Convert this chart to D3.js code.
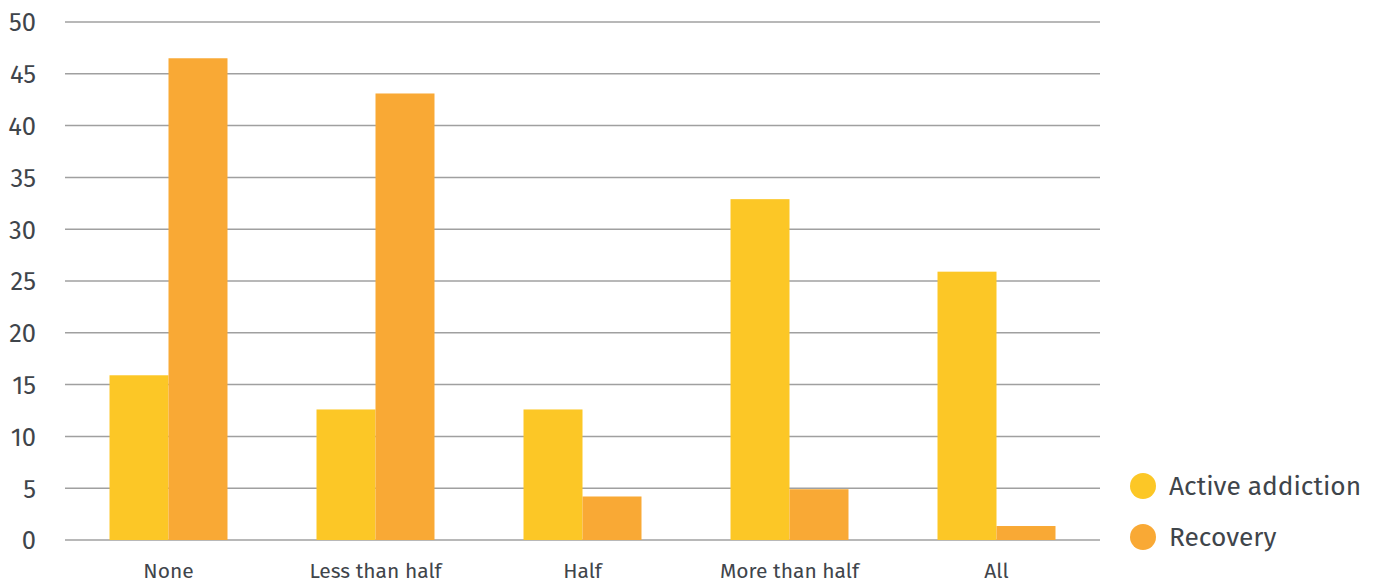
<!DOCTYPE html>
<html><head><meta charset="utf-8">
<script src="https://cdn.jsdelivr.net/npm/d3@7"></script>
<style>body{margin:0;background:#fff;} svg{display:block;}</style>
</head><body>
<svg id="c" width="1379" height="583"></svg>
<script>
const categories = ["None", "Less than half", "Half", "More than half", "All"];
const seriesNames = ["Active addiction", "Recovery"];
const activeAddiction = [15.9, 12.6, 12.6, 32.9, 25.9];
const recovery = [46.5, 43.1, 4.2, 4.9, 1.35];
const yTicks = [0, 5, 10, 15, 20, 25, 30, 35, 40, 45, 50];
const colors = ["#FCC726", "#F9A935"];

(function(){
const svg = d3.select("#c");
const mLeft = 65, mRight = 1100, mTop = 22, mBottom = 540;
const textColor = "#3f454b";
const font = "'Fira Sans','Open Sans','Noto Sans',sans-serif";

const x = d3.scaleBand().domain(categories).range([mLeft, mRight]).paddingInner(0.43).paddingOuter(0.215);
const xs = d3.scaleBand().domain(seriesNames).range([0, x.bandwidth()]);
const y = d3.scaleLinear().domain([0, 50]).range([mBottom, mTop]);

svg.append("g").selectAll("line").data(yTicks).join("line")
  .attr("x1", mLeft).attr("x2", mRight)
  .attr("y1", d => y(d)).attr("y2", d => y(d))
  .attr("stroke", "#a0a0a0").attr("stroke-width", 1.5);

const yAxis = d3.axisLeft(y).tickValues(yTicks).tickSize(0).tickPadding(0);
const gy = svg.append("g").attr("transform", `translate(36,0)`).call(yAxis);
gy.select(".domain").remove();
gy.selectAll("text").attr("font-family", font).attr("font-size", 25.5).attr("fill", textColor).attr("dy", "0.35em");

const xAxis = d3.axisBottom(x).tickSize(0).tickPadding(0);
const gx = svg.append("g").attr("transform", `translate(0,${mBottom + 23})`).call(xAxis);
gx.select(".domain").remove();
gx.selectAll("text").attr("font-family", font).attr("font-size", 21).attr("fill", textColor).attr("dy", "0.71em");

const data = categories.map((c, i) => ({c, vals: [activeAddiction[i], recovery[i]]}));
const groups = svg.append("g").selectAll("g").data(data).join("g")
  .attr("transform", d => `translate(${x(d.c)},0)`);
groups.selectAll("rect").data(d => d.vals.map((v, j) => ({v, s: seriesNames[j], j})))
  .join("rect")
  .attr("x", d => xs(d.s)).attr("width", xs.bandwidth())
  .attr("y", d => y(d.v)).attr("height", d => y(0) - y(d.v))
  .attr("fill", d => colors[d.j]);

const lg = svg.append("g").selectAll("g").data(seriesNames).join("g")
  .attr("transform", (d, i) => `translate(1143,${486 + i * 51})`);
lg.append("circle").attr("r", 13).attr("fill", (d, i) => colors[i]);
lg.append("text").attr("x", 26).attr("dy", "0.35em")
  .attr("font-family", font).attr("font-size", 26.3).attr("fill", textColor).text(d => d);
})();
</script>
</body></html>
